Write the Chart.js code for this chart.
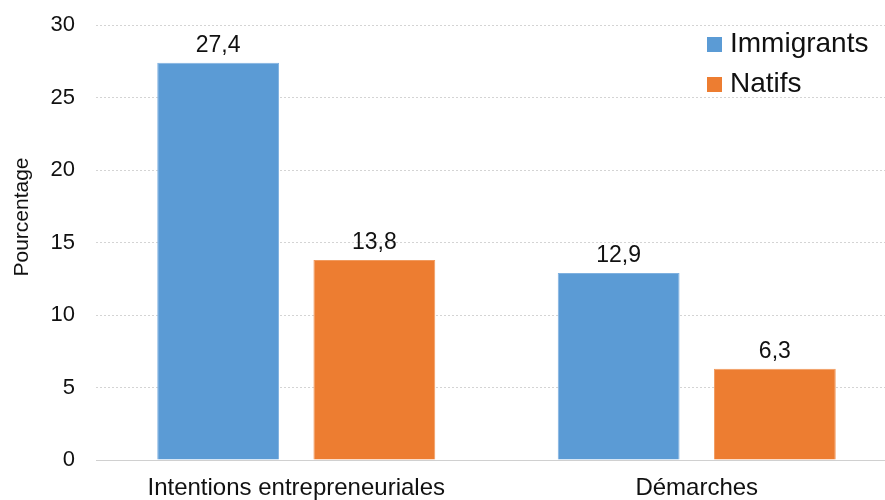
<!DOCTYPE html>
<html>
<head>
<meta charset="utf-8">
<script src="https://cdn.jsdelivr.net/npm/chart.js@4/dist/chart.umd.min.js"></script>
<style>
html,body{margin:0;padding:0;background:#fff;overflow:hidden;}
#wrap{width:885px;height:500px;overflow:hidden;position:relative;}
canvas{display:block;}
</style>
</head>
<body>
<div id="wrap"><canvas id="c" width="897" height="500"></canvas></div>
<script>
const categories = ["Intentions entrepreneuriales", "Démarches"];
const immigrants = [27.4, 12.9];
const natifs = [13.8, 6.3];
const seriesNames = ["Immigrants", "Natifs"];
const yTicks = [0, 5, 10, 15, 20, 25, 30];
const yTitle = "Pourcentage";

const FONT = "'Liberation Sans', Arial, sans-serif";

const valueLabels = {
  id: 'valueLabels',
  afterDatasetsDraw(chart) {
    const ctx = chart.ctx;
    ctx.save();
    ctx.font = "23px " + FONT;
    ctx.fillStyle = "#111";
    ctx.textAlign = "center";
    ctx.textBaseline = "alphabetic";
    chart.data.datasets.forEach((ds, i) => {
      const meta = chart.getDatasetMeta(i);
      meta.data.forEach((bar, j) => {
        const txt = ds.data[j].toFixed(1).replace('.', ',');
        ctx.fillText(txt, bar.x, bar.y - 11);
      });
    });
    ctx.restore();
  }
};

const customLegend = {
  id: 'customLegend',
  afterDraw(chart) {
    const ctx = chart.ctx;
    ctx.save();
    ctx.font = "28px " + FONT;
    ctx.textBaseline = "alphabetic";
    ctx.textAlign = "left";
    chart.data.datasets.forEach((ds, i) => {
      const base = 52 + i * 40;
      ctx.fillStyle = ds.backgroundColor;
      ctx.fillRect(707, base - 15, 15, 15);
      ctx.fillStyle = "#111";
      ctx.fillText(ds.label, 730, base);
    });
    ctx.restore();
  }
};

const axisTitle = {
  id: 'axisTitle',
  afterDraw(chart) {
    const ctx = chart.ctx;
    ctx.save();
    ctx.font = "21px " + FONT;
    ctx.fillStyle = "#111";
    ctx.textAlign = "center";
    ctx.textBaseline = "middle";
    ctx.translate(22, 217);
    ctx.rotate(-Math.PI / 2);
    ctx.fillText(yTitle, 0, 0);
    ctx.restore();
  }
};

new Chart(document.getElementById('c'), {
  type: 'bar',
  data: {
    labels: categories,
    datasets: [
      { label: seriesNames[0], data: immigrants, backgroundColor: '#5B9BD5', borderColor: '#7FB1E0', borderWidth: 1 },
      { label: seriesNames[1], data: natifs, backgroundColor: '#ED7D31', borderColor: '#F19A5E', borderWidth: 1 }
    ]
  },
  plugins: [valueLabels, customLegend, axisTitle],
  options: {
    responsive: false,
    animation: false,
    devicePixelRatio: 1,
    categoryPercentage: 0.78,
    barPercentage: 0.78,
    layout: { padding: { top: 25, right: 0, left: 0, bottom: 0 } },
    plugins: { legend: { display: false }, tooltip: { enabled: false } },
    scales: {
      x: {
        grid: { display: false, drawTicks: false },
        border: { display: true, color: '#d0d0d0', width: 1 },
        ticks: { font: { family: FONT, size: 24 }, color: '#111', padding: 14 },
        afterFit(axis) { axis.height = 40; axis.paddingLeft = 0; axis.paddingRight = 0; }
      },
      y: {
        min: 0, max: 30,
        afterBuildTicks(axis) { axis.ticks = yTicks.map(v => ({ value: v })); },
        grid: { color: '#d4d4d4', lineWidth: 1, drawTicks: false },
        border: { display: false, dash: [2, 2] },
        ticks: { font: { family: FONT, size: 22 }, color: '#111', padding: 21 },
        title: { display: false },
        afterFit(axis) { axis.width = 96; axis.paddingTop = 0; axis.paddingBottom = 0; }
      }
    }
  }
});
</script>
</body>
</html>
